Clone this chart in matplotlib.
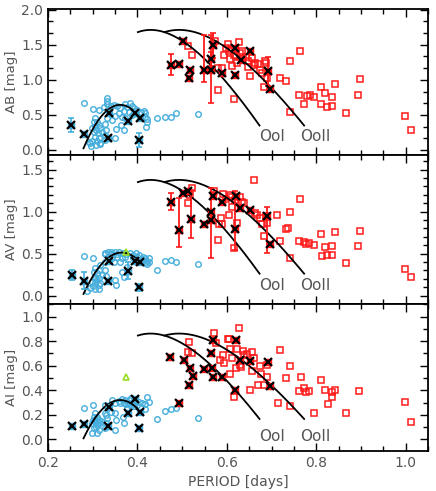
import numpy as np
import matplotlib
matplotlib.use('Agg')
import matplotlib.pyplot as plt
from matplotlib.ticker import MultipleLocator

# ---------------- AB panel ----------------
b_c_per = [0.2815, 0.301, 0.332, 0.332, 0.331, 0.325, 0.314, 0.340, 0.347, 0.354,
           0.362, 0.373, 0.377, 0.384, 0.388, 0.392, 0.369, 0.381, 0.358, 0.351,
           0.366, 0.373, 0.387, 0.399, 0.407, 0.414, 0.418, 0.418, 0.421, 0.421,
           0.420, 0.306, 0.302, 0.310, 0.305, 0.314, 0.299, 0.308, 0.317, 0.302,
           0.312, 0.321, 0.306, 0.315, 0.299, 0.310, 0.297, 0.308, 0.317, 0.328,
           0.330, 0.327, 0.328, 0.351, 0.352, 0.364, 0.369, 0.332, 0.343, 0.444,
           0.462, 0.476, 0.486, 0.535, 0.291, 0.295, 0.317]
b_c_amp = [0.676, 0.581, 0.738, 0.700, 0.657, 0.619, 0.571, 0.633, 0.643, 0.633,
           0.595, 0.652, 0.619, 0.667, 0.633, 0.595, 0.557, 0.548, 0.524, 0.490,
           0.476, 0.452, 0.500, 0.571, 0.548, 0.557, 0.524, 0.476, 0.443, 0.395,
           0.333, 0.452, 0.405, 0.395, 0.348, 0.357, 0.310, 0.286, 0.310, 0.252,
           0.238, 0.262, 0.190, 0.176, 0.129, 0.129, 0.062, 0.071, 0.095, 0.367,
           0.286, 0.214, 0.143, 0.176, 0.300, 0.357, 0.286, 0.452, 0.429, 0.452,
           0.467, 0.476, 0.524, 0.510, 0.119, 0.100, 0.086]

b_cx_per = [0.2525, 0.2815, 0.3345, 0.336, 0.378, 0.3955, 0.405, 0.403]
b_cx_amp = [0.357, 0.229, 0.167, 0.524, 0.419, 0.524, 0.452, 0.143]
b_cx_err = [0.095, 0, 0, 0, 0, 0, 0, 0.10]

b_ab_per = [0.574, 0.5793, 0.580, 0.589, 0.594, 0.6017, 0.604, 0.606, 0.6113, 0.615,
            0.621, 0.6225, 0.6262, 0.6285, 0.6337, 0.6359, 0.6463, 0.6523, 0.656, 0.6597,
            0.6635, 0.6687, 0.6731, 0.6784, 0.6843, 0.688, 0.6895, 0.682, 0.7193, 0.7327,
            0.7417, 0.7417, 0.764, 0.7617, 0.773, 0.779, 0.785, 0.794, 0.810, 0.820,
            0.835, 0.8407, 0.811, 0.8236, 0.835, 0.866, 0.893, 0.898, 0.9985, 1.011,
            0.514, 0.521, 0.597, 0.610, 0.617, 0.643, 0.648]
b_ab_amp = [1.548, 1.167, 0.848, 1.167, 1.357, 1.514, 1.405, 1.295, 1.200, 0.724,
            1.333, 1.238, 1.538, 1.381, 1.405, 1.310, 1.262, 1.057, 1.310, 1.214,
            1.238, 1.229, 1.143, 1.095, 1.262, 1.238, 1.024, 0.895, 1.024, 0.990,
            1.262, 0.548, 1.414, 0.786, 0.657, 0.776, 0.786, 0.762, 0.895, 0.810,
            0.762, 0.943, 0.652, 0.619, 0.629, 0.533, 0.786, 1.010, 0.490, 0.286,
            1.480, 1.360, 1.450, 1.440, 1.350, 1.330, 1.190]

b_abx_per = [0.474, 0.494, 0.503, 0.518, 0.516, 0.548, 0.565, 0.565, 0.570, 0.589,
             0.619, 0.619, 0.632, 0.652, 0.691, 0.697]
b_abx_amp = [1.214, 1.229, 1.548, 1.143, 1.033, 1.143, 1.300, 1.140, 1.490, 1.095,
             1.452, 1.062, 1.286, 1.405, 1.119, 0.867]
b_abx_lo = [0.15, 0, 0, 0, 0, 0.17, 0.10, 0.47, 0.18, 0, 0, 0, 0, 0, 0.20, 0]
b_abx_hi = [0.15, 0, 0, 0, 0, 0.50, 0.10, 0.50, 0.18, 0, 0, 0, 0, 0, 0.20, 0]

# ---------------- AV panel ----------------
v_c_per = [0.2815, 0.3009, 0.327, 0.3344, 0.3418, 0.3508, 0.3582, 0.3672, 0.3843, 0.3895,
           0.397, 0.4044, 0.4118, 0.4178, 0.4215, 0.4215, 0.4178, 0.3433, 0.3545, 0.3657,
           0.3731, 0.347, 0.3619, 0.3284, 0.3173, 0.3061, 0.3024, 0.3098, 0.3135, 0.3046,
           0.3135, 0.2986, 0.3061, 0.3173, 0.2949, 0.3061, 0.3135, 0.2875, 0.327, 0.3299,
           0.3508, 0.3523, 0.3657, 0.3694, 0.3768, 0.4438, 0.4625, 0.4751, 0.4863, 0.5354,
           0.4267, 0.4267, 0.3284, 0.305, 0.310, 0.320, 0.315, 0.300, 0.340, 0.355,
           0.375, 0.390, 0.400, 0.410]
v_c_amp = [0.472, 0.445, 0.504, 0.516, 0.520, 0.524, 0.516, 0.504, 0.504, 0.484,
           0.504, 0.484, 0.465, 0.445, 0.413, 0.373, 0.393, 0.445, 0.465, 0.445,
           0.465, 0.405, 0.405, 0.405, 0.365, 0.326, 0.286, 0.266, 0.306, 0.226,
           0.207, 0.167, 0.147, 0.147, 0.088, 0.076, 0.076, 0.060, 0.306, 0.234,
           0.187, 0.127, 0.286, 0.226, 0.346, 0.306, 0.413, 0.425, 0.405, 0.377,
           0.445, 0.405, 0.496, 0.200, 0.180, 0.250, 0.120, 0.110, 0.490, 0.490,
           0.490, 0.450, 0.460, 0.430]

v_cx_per = [0.254, 0.2815, 0.3344, 0.3359, 0.3783, 0.3955, 0.4066, 0.403]
v_cx_amp = [0.246, 0.179, 0.179, 0.413, 0.298, 0.417, 0.397, 0.100]
v_cx_err = [0.06, 0.10, 0, 0, 0.10, 0, 0, 0.04]

v_ab_per = [0.572, 0.5793, 0.5816, 0.5868, 0.5912, 0.604, 0.6061, 0.6113, 0.615, 0.6188,
            0.6225, 0.6285, 0.6337, 0.6374, 0.6597, 0.6635, 0.667, 0.6747, 0.6784, 0.682,
            0.688, 0.6895, 0.7119, 0.7193, 0.7327, 0.7357, 0.7417, 0.7417, 0.764, 0.7617,
            0.7714, 0.7774, 0.7841, 0.7938, 0.810, 0.820, 0.8124, 0.8236, 0.835, 0.835,
            0.8407, 0.866, 0.893, 0.898, 0.9985, 1.011, 0.521, 0.512, 0.517, 0.598,
            0.608, 0.590]
v_ab_amp = [1.250, 0.663, 0.850, 0.921, 1.211, 0.960, 1.179, 1.060, 0.564, 1.140,
            0.861, 1.179, 1.120, 1.100, 1.377, 0.980, 0.960, 0.921, 0.853, 0.710,
            0.949, 0.861, 0.960, 0.655, 0.790, 0.802, 1.000, 0.445, 1.147, 0.655,
            0.643, 0.615, 0.623, 0.603, 0.730, 0.576, 0.473, 0.485, 0.485, 0.595,
            0.762, 0.385, 0.595, 0.770, 0.314, 0.227, 1.278, 1.100, 1.200, 1.150,
            1.200, 0.850]

v_abx_per = [0.474, 0.494, 0.502, 0.512, 0.519, 0.548, 0.565, 0.565, 0.570, 0.589,
             0.619, 0.620, 0.630, 0.652, 0.690, 0.697]
v_abx_amp = [1.12, 0.782, 1.219, 1.246, 0.91, 0.85, 1.00, 0.90, 1.18, 1.12,
             0.794, 1.187, 1.04, 1.02, 0.945, 0.612]
v_abx_lo = [0.10, 0.20, 0, 0, 0.22, 0, 0, 0.45, 0, 0, 0.25, 0, 0, 0, 0.44, 0]
v_abx_hi = [0.10, 0.38, 0, 0, 0.35, 0, 0, 0.38, 0.05, 0, 0.45, 0, 0, 0, 0.11, 0]

v_tri_per = [0.3753]
v_tri_amp = [0.516]

# ---------------- AI panel ----------------
i_c_per = [0.2815, 0.3009, 0.3284, 0.3433, 0.3508, 0.3582, 0.3657, 0.3731, 0.3806, 0.3865,
           0.3918, 0.3843, 0.3918, 0.3768, 0.403, 0.4103, 0.4178, 0.4215, 0.4252, 0.4178,
           0.3061, 0.3024, 0.3098, 0.3046, 0.3135, 0.2986, 0.3098, 0.3173, 0.3024, 0.3150,
           0.3284, 0.3322, 0.3300, 0.3270, 0.3508, 0.3523, 0.3508, 0.3672, 0.3694, 0.4438,
           0.4625, 0.4751, 0.4863, 0.5354, 0.2986, 0.3098, 0.305, 0.310, 0.300, 0.312,
           0.308, 0.318, 0.375, 0.380, 0.385, 0.390, 0.395, 0.370, 0.360, 0.400,
           0.330, 0.340]
i_c_amp = [0.252, 0.280, 0.280, 0.320, 0.293, 0.315, 0.326, 0.320, 0.320, 0.334,
           0.315, 0.288, 0.271, 0.252, 0.307, 0.293, 0.288, 0.347, 0.307, 0.244,
           0.211, 0.184, 0.184, 0.157, 0.157, 0.130, 0.116, 0.130, 0.089, 0.076,
           0.211, 0.171, 0.130, 0.089, 0.076, 0.157, 0.211, 0.184, 0.135, 0.163,
           0.230, 0.244, 0.258, 0.171, 0.048, 0.048, 0.140, 0.170, 0.160, 0.130,
           0.100, 0.150, 0.290, 0.300, 0.270, 0.290, 0.300, 0.300, 0.300, 0.280,
           0.200, 0.220]

i_cx_per = [0.254, 0.2815, 0.3344, 0.3359, 0.3791, 0.3955, 0.4066, 0.403]
i_cx_amp = [0.108, 0.122, 0.108, 0.266, 0.212, 0.326, 0.220, 0.095]
i_cx_err = [0, 0, 0, 0, 0, 0, 0, 0]

i_ab_per = [0.572, 0.5853, 0.5912, 0.5942, 0.604, 0.6061, 0.6076, 0.6113, 0.615, 0.621,
            0.6225, 0.6262, 0.6285, 0.6315, 0.6352, 0.6374, 0.6449, 0.656, 0.656, 0.6523,
            0.6612, 0.6687, 0.6746, 0.6769, 0.682, 0.6895, 0.6895, 0.7193, 0.7133, 0.7327,
            0.7417, 0.7417, 0.7655, 0.7617, 0.773, 0.7774, 0.7841, 0.794, 0.810, 0.820,
            0.825, 0.835, 0.835, 0.8407, 0.866, 0.8943, 0.9985, 1.011, 0.5146, 0.5124,
            0.522, 0.5764, 0.6025]
i_ab_amp = [0.863, 0.646, 0.687, 0.619, 0.817, 0.733, 0.529, 0.660, 0.342, 0.578,
            0.736, 0.910, 0.605, 0.592, 0.720, 0.687, 0.695, 0.709, 0.556, 0.402,
            0.660, 0.442, 0.600, 0.532, 0.442, 0.510, 0.605, 0.728, 0.293, 0.502,
            0.600, 0.271, 0.505, 0.393, 0.415, 0.382, 0.396, 0.211, 0.483, 0.402,
            0.285, 0.382, 0.347, 0.402, 0.211, 0.393, 0.301, 0.143, 0.796, 0.709,
            0.700, 0.782, 0.817]

i_abx_per = [0.4737, 0.4938, 0.5034, 0.5183, 0.5243, 0.5146, 0.548, 0.5644, 0.5667, 0.5689,
             0.5689, 0.589, 0.6188, 0.6203, 0.630, 0.652, 0.6918, 0.697]
i_abx_amp = [0.673, 0.293, 0.646, 0.578, 0.518, 0.442, 0.573, 0.700, 0.584, 0.809,
             0.510, 0.510, 0.402, 0.809, 0.646, 0.638, 0.632, 0.437]

i_tri_per = [0.375]
i_tri_amp = [0.51]

# Oosterhoff loci: A = h - k*(logP - L0)^2, OoII shifted by dlogP
oo_L0 = -0.367
oo_shift = 0.06
oo_h = [1.712, 1.377, 0.862]
oo_k = [35.853, 29.35, 18.3]
oo_prange = (0.401, 0.673)
# RRc loci: A = h - k*(P - P0)^2
c_P0 = [0.3614, 0.365, 0.3614]
c_h = [0.643, 0.512, 0.320]
c_k = [92.3, 67.3, 46.5]
c_prange = [(0.2795, 0.410), (0.2795, 0.410), (0.2795, 0.406)]

ylabels = ['AB [mag]', 'AV [mag]', 'AI [mag]']
ylims = [(-0.076, 2.01), (-0.1, 1.67), (-0.095, 1.103)]
ymajor = [0.5, 0.5, 0.2]
yminor = [0.5 / 3, 0.1, 0.1]
oo_text_y = [0.19, 0.115, 0.02]

BLUE = '#45aedc'
RED = '#ff1a1a'
GRAY = '#555555'

fig = plt.figure(figsize=(4.36, 4.91), dpi=100)
left, width = 0.110, 0.872
boxes = [(0.6837, 0.298), (0.3809, 0.3028), (0.0815, 0.2994)]

panels = [
    (b_c_per, b_c_amp, b_cx_per, b_cx_amp, b_cx_err, b_ab_per, b_ab_amp,
     b_abx_per, b_abx_amp, b_abx_lo, b_abx_hi, None, None),
    (v_c_per, v_c_amp, v_cx_per, v_cx_amp, v_cx_err, v_ab_per, v_ab_amp,
     v_abx_per, v_abx_amp, v_abx_lo, v_abx_hi, v_tri_per, v_tri_amp),
    (i_c_per, i_c_amp, i_cx_per, i_cx_amp, i_cx_err, i_ab_per, i_ab_amp,
     i_abx_per, i_abx_amp, None, None, i_tri_per, i_tri_amp),
]

for n, (cp, ca, cxp, cxa, cxe, abp, aba, abxp, abxa, ablo, abhi, tp, ta) in enumerate(panels):
    ax = fig.add_axes([left, boxes[n][0], width, boxes[n][1]])

    ax.plot(cp, ca, 'o', ms=4, mfc='none', mec=BLUE, mew=1.0, zorder=2)
    ax.plot(abp, aba, 's', ms=4.5, mfc='none', mec=RED, mew=1.1, zorder=2)

    # loci
    for shift in (0.0, oo_shift):
        pp = np.linspace(oo_prange[0] * 10 ** shift, oo_prange[1] * 10 ** shift, 200)
        lp = np.log10(pp) - shift
        ax.plot(pp, oo_h[n] - oo_k[n] * (lp - oo_L0) ** 2, color='black', lw=1.3, zorder=3)
    pc = np.linspace(c_prange[n][0], c_prange[n][1], 200)
    ax.plot(pc, c_h[n] - c_k[n] * (pc - c_P0[n]) ** 2, color='black', lw=1.3, zorder=3)

    # error bars
    cxp_a, cxa_a, cxe_a = np.array(cxp), np.array(cxa), np.array(cxe)
    m = cxe_a > 0
    if m.any():
        ax.errorbar(cxp_a[m], cxa_a[m], yerr=cxe_a[m], fmt='none', ecolor=BLUE,
                    elinewidth=1.2, capsize=2, capthick=1.2, zorder=4)
    if ablo is not None:
        lo, hi = np.array(ablo), np.array(abhi)
        m = (lo + hi) > 0
        ax.errorbar(np.array(abxp)[m], np.array(abxa)[m], yerr=[lo[m], hi[m]], fmt='none',
                    ecolor=RED, elinewidth=1.3, capsize=2, capthick=1.2, zorder=4)

    # flagged stars
    ax.plot(cxp, cxa, 's', ms=5, mfc=BLUE, mec=BLUE, zorder=5)
    ax.plot(cxp, cxa, 'x', ms=5.5, mec='black', mew=1.6, zorder=6)
    ax.plot(abxp, abxa, 's', ms=5, mfc=RED, mec=RED, zorder=5)
    ax.plot(abxp, abxa, 'x', ms=5.5, mec='black', mew=1.6, zorder=6)

    if tp is not None:
        ax.plot(tp, ta, '^', ms=4.5, mfc='none', mec='#99dd22', mew=1.2, zorder=7)

    ax.text(0.70, oo_text_y[n], 'OoI', color=GRAY, fontsize=11, ha='center', va='center')
    ax.text(0.798, oo_text_y[n], 'OoII', color=GRAY, fontsize=11, ha='center', va='center')

    ax.set_xlim(0.2, 1.05)
    ax.set_ylim(*ylims[n])
    ax.xaxis.set_major_locator(MultipleLocator(0.2))
    ax.xaxis.set_minor_locator(MultipleLocator(0.05))
    ax.yaxis.set_major_locator(MultipleLocator(ymajor[n]))
    ax.yaxis.set_minor_locator(MultipleLocator(yminor[n]))
    ax.tick_params(which='both', direction='in', top=True, right=True,
                   labelsize=10, labelcolor=GRAY, width=1)
    ax.tick_params(which='major', length=6)
    ax.tick_params(which='minor', length=3.5)
    ax.yaxis.set_major_formatter(matplotlib.ticker.FormatStrFormatter('%.1f'))
    for s in ax.spines.values():
        s.set_linewidth(1.3)
    ax.set_ylabel(ylabels[n], color=GRAY, fontsize=9.5)
    ax.yaxis.set_label_coords(-0.078, 0.5)
    if n < 2:
        ax.tick_params(labelbottom=False)
    else:
        ax.xaxis.set_major_formatter(matplotlib.ticker.FormatStrFormatter('%.1f'))
        ax.set_xlabel('PERIOD [days]', color=GRAY, fontsize=10, labelpad=4)

fig.savefig('out.png', dpi=100)
